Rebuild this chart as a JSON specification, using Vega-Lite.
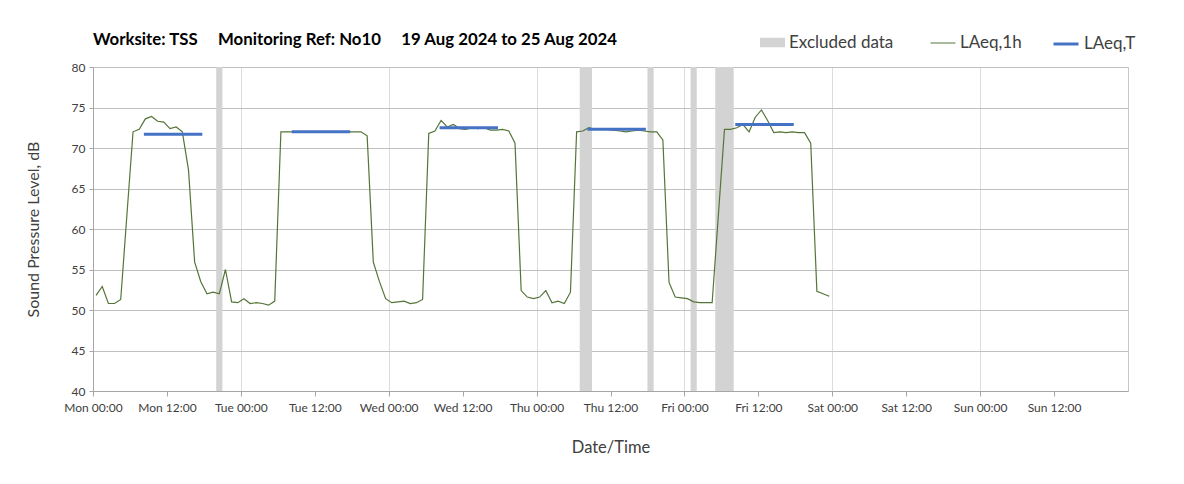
{
  "$schema": "https://vega.github.io/schema/vega-lite/v6.json",
  "width": 1035,
  "height": 324,
  "autosize": "none",
  "padding": {"left": 93, "top": 67, "right": 56, "bottom": 93},
  "background": "white",
  "title": {
    "text": "Worksite: TSS\u00a0\u00a0\u00a0\u00a0\u00a0Monitoring Ref: No10\u00a0\u00a0\u00a0\u00a0\u00a019 Aug 2024 to 25 Aug 2024",
    "anchor": "start",
    "frame": "group",
    "font": "Lato",
    "fontSize": 16.8,
    "fontWeight": "bold",
    "color": "#000000",
    "offset": -19
  },
  "config": {
    "font": "Lato",
    "view": {"stroke": "#c8c8c8", "strokeWidth": 1},
    "legend": {
      "labelFont": "Lato",
      "labelFontSize": 17,
      "labelColor": "#404040",
      "padding": 0,
      "labelOffset": 4,
      "symbolSize": 625
    }
  },
  "resolve": {"scale": {"stroke": "independent"}},
  "layer": [
    {
      "data": {
        "values": [
          {"start": "2024-08-19T20:00", "end": "2024-08-19T21:00"},
          {"start": "2024-08-22T07:00", "end": "2024-08-22T09:00"},
          {"start": "2024-08-22T18:00", "end": "2024-08-22T19:00"},
          {"start": "2024-08-23T01:00", "end": "2024-08-23T02:00"},
          {"start": "2024-08-23T05:00", "end": "2024-08-23T08:00"}
        ]
      },
      "mark": {"type": "rect"},
      "encoding": {
        "x": {
          "field": "start",
          "type": "temporal",
          "scale": {"domain": [{"year": 2024, "month": 8, "date": 19, "hours": 0}, {"year": 2024, "month": 8, "date": 26, "hours": 0}]},
          "axis": {
            "title": "Date/Time",
            "values": [
              {"year": 2024, "month": 8, "date": 19, "hours": 0},
              {"year": 2024, "month": 8, "date": 19, "hours": 12},
              {"year": 2024, "month": 8, "date": 20, "hours": 0},
              {"year": 2024, "month": 8, "date": 20, "hours": 12},
              {"year": 2024, "month": 8, "date": 21, "hours": 0},
              {"year": 2024, "month": 8, "date": 21, "hours": 12},
              {"year": 2024, "month": 8, "date": 22, "hours": 0},
              {"year": 2024, "month": 8, "date": 22, "hours": 12},
              {"year": 2024, "month": 8, "date": 23, "hours": 0},
              {"year": 2024, "month": 8, "date": 23, "hours": 12},
              {"year": 2024, "month": 8, "date": 24, "hours": 0},
              {"year": 2024, "month": 8, "date": 24, "hours": 12},
              {"year": 2024, "month": 8, "date": 25, "hours": 0},
              {"year": 2024, "month": 8, "date": 25, "hours": 12}
            ],
            "format": "%a %H:%M",
            "labelFont": "Lato",
            "labelFontSize": 12,
            "labelColor": "#404040",
            "labelPadding": 6,
            "labelFlush": false,
            "labelOverlap": false,
            "tickColor": "#a6a6a6",
            "tickSize": 5,
            "domainColor": "#a6a6a6",
            "grid": true,
            "gridColor": {"condition": {"test": "hours(datum.value) == 0", "value": "#dcdcdc"}, "value": "rgba(0,0,0,0)"},
            "titleFont": "Lato",
            "titleFontSize": 16.5,
            "titleFontWeight": "normal",
            "titleColor": "#404040",
            "titlePadding": 26
          }
        },
        "x2": {"field": "end"},
        "fill": {
          "datum": "Excluded data",
          "type": "nominal",
          "scale": {"range": ["#d3d3d3"]},
          "legend": {
            "orient": "none",
            "legendX": 667,
            "legendY": -37,
            "title": null,
            "symbolType": "M-1,-0.38H1V0.38H-1Z",
            "symbolStrokeWidth": 0,
            "symbolOpacity": 1
          }
        }
      }
    },
    {
      "data": {
        "values": [
          {"t": "2024-08-19T00:30", "v": 51.8},
          {"t": "2024-08-19T01:30", "v": 52.9},
          {"t": "2024-08-19T02:30", "v": 50.8},
          {"t": "2024-08-19T03:30", "v": 50.8},
          {"t": "2024-08-19T04:30", "v": 51.3},
          {"t": "2024-08-19T05:30", "v": 61.7},
          {"t": "2024-08-19T06:30", "v": 72.0},
          {"t": "2024-08-19T07:30", "v": 72.3},
          {"t": "2024-08-19T08:30", "v": 73.6},
          {"t": "2024-08-19T09:30", "v": 73.9},
          {"t": "2024-08-19T10:30", "v": 73.3},
          {"t": "2024-08-19T11:30", "v": 73.2},
          {"t": "2024-08-19T12:30", "v": 72.4},
          {"t": "2024-08-19T13:30", "v": 72.6},
          {"t": "2024-08-19T14:30", "v": 72.0},
          {"t": "2024-08-19T15:30", "v": 67.3},
          {"t": "2024-08-19T16:30", "v": 55.9},
          {"t": "2024-08-19T17:30", "v": 53.5},
          {"t": "2024-08-19T18:30", "v": 52.0},
          {"t": "2024-08-19T19:30", "v": 52.2},
          {"t": "2024-08-19T20:30", "v": 52.0},
          {"t": "2024-08-19T21:30", "v": 55.0},
          {"t": "2024-08-19T22:30", "v": 51.0},
          {"t": "2024-08-19T23:30", "v": 50.9},
          {"t": "2024-08-20T00:30", "v": 51.4},
          {"t": "2024-08-20T01:30", "v": 50.8},
          {"t": "2024-08-20T02:30", "v": 50.9},
          {"t": "2024-08-20T03:30", "v": 50.8},
          {"t": "2024-08-20T04:30", "v": 50.6},
          {"t": "2024-08-20T05:30", "v": 51.1},
          {"t": "2024-08-20T06:30", "v": 72.0},
          {"t": "2024-08-20T07:30", "v": 72.0},
          {"t": "2024-08-20T08:30", "v": 72.0},
          {"t": "2024-08-20T09:30", "v": 72.0},
          {"t": "2024-08-20T10:30", "v": 72.0},
          {"t": "2024-08-20T11:30", "v": 72.0},
          {"t": "2024-08-20T12:30", "v": 72.0},
          {"t": "2024-08-20T13:30", "v": 72.0},
          {"t": "2024-08-20T14:30", "v": 72.0},
          {"t": "2024-08-20T15:30", "v": 72.0},
          {"t": "2024-08-20T16:30", "v": 72.0},
          {"t": "2024-08-20T17:30", "v": 72.0},
          {"t": "2024-08-20T18:30", "v": 72.0},
          {"t": "2024-08-20T19:30", "v": 72.0},
          {"t": "2024-08-20T20:30", "v": 71.5},
          {"t": "2024-08-20T21:30", "v": 55.9},
          {"t": "2024-08-20T22:30", "v": 53.5},
          {"t": "2024-08-20T23:30", "v": 51.4},
          {"t": "2024-08-21T00:30", "v": 50.9},
          {"t": "2024-08-21T01:30", "v": 51.0},
          {"t": "2024-08-21T02:30", "v": 51.1},
          {"t": "2024-08-21T03:30", "v": 50.8},
          {"t": "2024-08-21T04:30", "v": 50.9},
          {"t": "2024-08-21T05:30", "v": 51.3},
          {"t": "2024-08-21T06:30", "v": 71.8},
          {"t": "2024-08-21T07:30", "v": 72.1},
          {"t": "2024-08-21T08:30", "v": 73.4},
          {"t": "2024-08-21T09:30", "v": 72.6},
          {"t": "2024-08-21T10:30", "v": 72.9},
          {"t": "2024-08-21T11:30", "v": 72.4},
          {"t": "2024-08-21T12:30", "v": 72.3},
          {"t": "2024-08-21T13:30", "v": 72.5},
          {"t": "2024-08-21T14:30", "v": 72.4},
          {"t": "2024-08-21T15:30", "v": 72.5},
          {"t": "2024-08-21T16:30", "v": 72.2},
          {"t": "2024-08-21T17:30", "v": 72.2},
          {"t": "2024-08-21T18:30", "v": 72.3},
          {"t": "2024-08-21T19:30", "v": 72.1},
          {"t": "2024-08-21T20:30", "v": 70.6},
          {"t": "2024-08-21T21:30", "v": 52.4},
          {"t": "2024-08-21T22:30", "v": 51.6},
          {"t": "2024-08-21T23:30", "v": 51.4},
          {"t": "2024-08-22T00:30", "v": 51.6},
          {"t": "2024-08-22T01:30", "v": 52.4},
          {"t": "2024-08-22T02:30", "v": 50.9},
          {"t": "2024-08-22T03:30", "v": 51.1},
          {"t": "2024-08-22T04:30", "v": 50.8},
          {"t": "2024-08-22T05:30", "v": 52.2},
          {"t": "2024-08-22T06:30", "v": 72.0},
          {"t": "2024-08-22T07:30", "v": 72.1},
          {"t": "2024-08-22T08:30", "v": 72.5},
          {"t": "2024-08-22T09:30", "v": 72.3},
          {"t": "2024-08-22T10:30", "v": 72.3},
          {"t": "2024-08-22T11:30", "v": 72.3},
          {"t": "2024-08-22T12:30", "v": 72.2},
          {"t": "2024-08-22T13:30", "v": 72.1},
          {"t": "2024-08-22T14:30", "v": 72.0},
          {"t": "2024-08-22T15:30", "v": 72.1},
          {"t": "2024-08-22T16:30", "v": 72.2},
          {"t": "2024-08-22T17:30", "v": 72.1},
          {"t": "2024-08-22T18:30", "v": 72.0},
          {"t": "2024-08-22T19:30", "v": 72.0},
          {"t": "2024-08-22T20:30", "v": 71.0},
          {"t": "2024-08-22T21:30", "v": 53.4},
          {"t": "2024-08-22T22:30", "v": 51.6},
          {"t": "2024-08-22T23:30", "v": 51.5},
          {"t": "2024-08-23T00:30", "v": 51.4},
          {"t": "2024-08-23T01:30", "v": 51.0},
          {"t": "2024-08-23T02:30", "v": 50.9},
          {"t": "2024-08-23T03:30", "v": 50.9},
          {"t": "2024-08-23T04:30", "v": 50.9},
          {"t": "2024-08-23T05:30", "v": 61.6},
          {"t": "2024-08-23T06:30", "v": 72.3},
          {"t": "2024-08-23T07:30", "v": 72.3},
          {"t": "2024-08-23T08:30", "v": 72.5},
          {"t": "2024-08-23T09:30", "v": 72.9},
          {"t": "2024-08-23T10:30", "v": 72.0},
          {"t": "2024-08-23T11:30", "v": 73.8},
          {"t": "2024-08-23T12:30", "v": 74.7},
          {"t": "2024-08-23T13:30", "v": 73.4},
          {"t": "2024-08-23T14:30", "v": 71.9},
          {"t": "2024-08-23T15:30", "v": 72.0},
          {"t": "2024-08-23T16:30", "v": 71.9},
          {"t": "2024-08-23T17:30", "v": 72.0},
          {"t": "2024-08-23T18:30", "v": 71.9},
          {"t": "2024-08-23T19:30", "v": 71.9},
          {"t": "2024-08-23T20:30", "v": 70.6},
          {"t": "2024-08-23T21:30", "v": 52.3},
          {"t": "2024-08-23T22:30", "v": 52.0},
          {"t": "2024-08-23T23:30", "v": 51.7}
        ]
      },
      "mark": {"type": "line", "strokeWidth": 1.2, "interpolate": "linear"},
      "encoding": {
        "x": {"field": "t", "type": "temporal"},
        "y": {
          "field": "v",
          "type": "quantitative",
          "scale": {"domain": [40, 80], "nice": false, "zero": false},
          "axis": {
            "title": "Sound Pressure Level, dB",
            "values": [40, 45, 50, 55, 60, 65, 70, 75, 80],
            "labelFont": "Lato",
            "labelFontSize": 12,
            "labelColor": "#404040",
            "labelPadding": 4,
            "tickColor": "#a6a6a6",
            "tickSize": 4,
            "domainColor": "#a6a6a6",
            "gridColor": "#c0c0c0",
            "titleFont": "Lato",
            "titleFontSize": 16,
            "titleFontWeight": "normal",
            "titleColor": "#404040",
            "titlePadding": 30
          }
        },
        "stroke": {
          "datum": "LAeq,1h",
          "type": "nominal",
          "scale": {"range": ["#557538"]},
          "legend": {
            "orient": "none",
            "legendX": 837,
            "legendY": -37,
            "title": null,
            "symbolType": "stroke",
            "symbolStrokeWidth": 1
          }
        }
      }
    },
    {
      "data": {
        "values": [
          {"start": "2024-08-19T08:30", "end": "2024-08-19T17:30", "v": 71.7},
          {"start": "2024-08-20T08:30", "end": "2024-08-20T17:30", "v": 72.0},
          {"start": "2024-08-21T08:30", "end": "2024-08-21T17:30", "v": 72.5},
          {"start": "2024-08-22T08:30", "end": "2024-08-22T17:30", "v": 72.3},
          {"start": "2024-08-23T08:30", "end": "2024-08-23T17:30", "v": 72.9}
        ]
      },
      "mark": {"type": "rule", "strokeWidth": 3, "strokeCap": "square"},
      "encoding": {
        "x": {"field": "start", "type": "temporal"},
        "x2": {"field": "end"},
        "y": {"field": "v", "type": "quantitative"},
        "stroke": {
          "datum": "LAeq,T",
          "type": "nominal",
          "scale": {"range": ["#4472c4"]},
          "legend": {
            "orient": "none",
            "legendX": 959,
            "legendY": -37,
            "title": null,
            "symbolType": "stroke",
            "symbolStrokeWidth": 3
          }
        }
      }
    }
  ]
}
